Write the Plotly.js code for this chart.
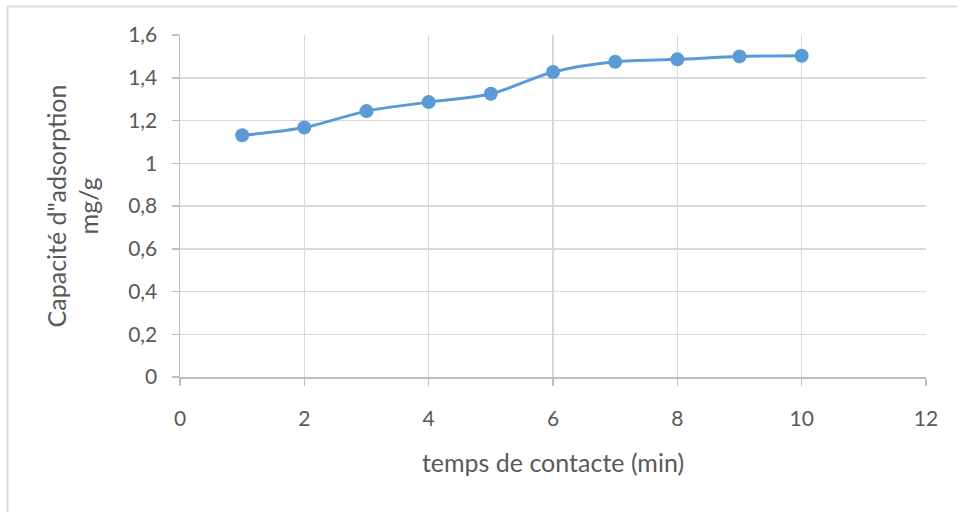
<!DOCTYPE html>
<html>
<head>
<meta charset="utf-8">
<script src="https://cdn.plot.ly/plotly-3.0.1.min.js"></script>
<style>
  html, body { margin: 0; padding: 0; background: #ffffff; }
  #chart { width: 957px; height: 512px; }
</style>
</head>
<body>
<div id="chart"></div>
<script>
// Contact time (min) and adsorption capacity (mg/g)
const contactTime = [1, 2, 3, 4, 5, 6, 7, 8, 9, 10];
const capacity = [1.131, 1.167, 1.244, 1.286, 1.325, 1.427, 1.475, 1.486, 1.500, 1.503];

const xTickValues = [0, 2, 4, 6, 8, 10, 12];
const yTickValues = [0, 0.2, 0.4, 0.6, 0.8, 1, 1.2, 1.4, 1.6];
const yTickLabels = ['0', '0,2', '0,4', '0,6', '0,8', '1', '1,2', '1,4', '1,6'];

const xTitle = 'temps de contacte (min)';
const yTitle = 'Capacité d"adsorption<br>mg/g';

const blue = '#5B9BD5';
const gridColor = '#d9d9d9';
const axisColor = '#bfbfbf';
const textColor = '#595959';
const fontFamily = 'Lato, "Open Sans", sans-serif';

const W = 957, H = 512;
const margin = { l: 180, r: 31, t: 35, b: 135, pad: 0 };
const plotW = W - margin.l - margin.r;
const plotH = H - margin.t - margin.b;
// convert pixel positions into paper coordinates for the frame lines
const px = x => (x - margin.l) / plotW;
const py = y => (H - margin.b - y) / plotH;

const trace = {
  x: contactTime,
  y: capacity,
  type: 'scatter',
  mode: 'lines+markers',
  line: { color: blue, width: 3, shape: 'spline', smoothing: 0.9 },
  marker: { color: blue, size: 14 },
  hoverinfo: 'x+y'
};

const layout = {
  width: W,
  height: H,
  margin: margin,
  paper_bgcolor: '#ffffff',
  plot_bgcolor: '#ffffff',
  showlegend: false,
  separators: ', ',
  font: { family: fontFamily, color: textColor, size: 21 },
  xaxis: {
    range: [0, 12],
    tickvals: xTickValues,
    ticktext: xTickValues.map(String),
    showgrid: true,
    gridcolor: gridColor,
    gridwidth: 1.5,
    showline: true,
    linecolor: axisColor,
    linewidth: 1.5,
    ticks: 'outside',
    ticklen: 7,
    tickwidth: 1.5,
    tickcolor: axisColor,
    ticklabelstandoff: 15,
    tickfont: { family: fontFamily, size: 21, color: textColor },
    zeroline: false,
    title: { text: xTitle, font: { family: fontFamily, size: 25, color: textColor }, standoff: 26 }
  },
  yaxis: {
    range: [0, 1.6],
    tickvals: yTickValues,
    ticktext: yTickLabels,
    showgrid: true,
    gridcolor: gridColor,
    gridwidth: 1.5,
    showline: true,
    linecolor: axisColor,
    linewidth: 1.5,
    ticks: 'outside',
    ticklen: 7,
    tickwidth: 1.5,
    tickcolor: axisColor,
    ticklabelstandoff: 10,
    tickfont: { family: fontFamily, size: 21, color: textColor },
    zeroline: false,
    title: { text: yTitle, font: { family: fontFamily, size: 25, color: textColor }, standoff: 22 }
  },
  shapes: [
    { type: 'line', xref: 'paper', yref: 'paper', x0: px(7.5), x1: px(W + 2), y0: py(6.5), y1: py(6.5),
      line: { color: '#d9d9d9', width: 2 } },
    { type: 'line', xref: 'paper', yref: 'paper', x0: px(7.5), x1: px(7.5), y0: py(6.5), y1: py(H + 2),
      line: { color: '#d9d9d9', width: 2 } }
  ]
};

Plotly.newPlot('chart', [trace], layout, { staticPlot: true, displayModeBar: false });
</script>
</body>
</html>
